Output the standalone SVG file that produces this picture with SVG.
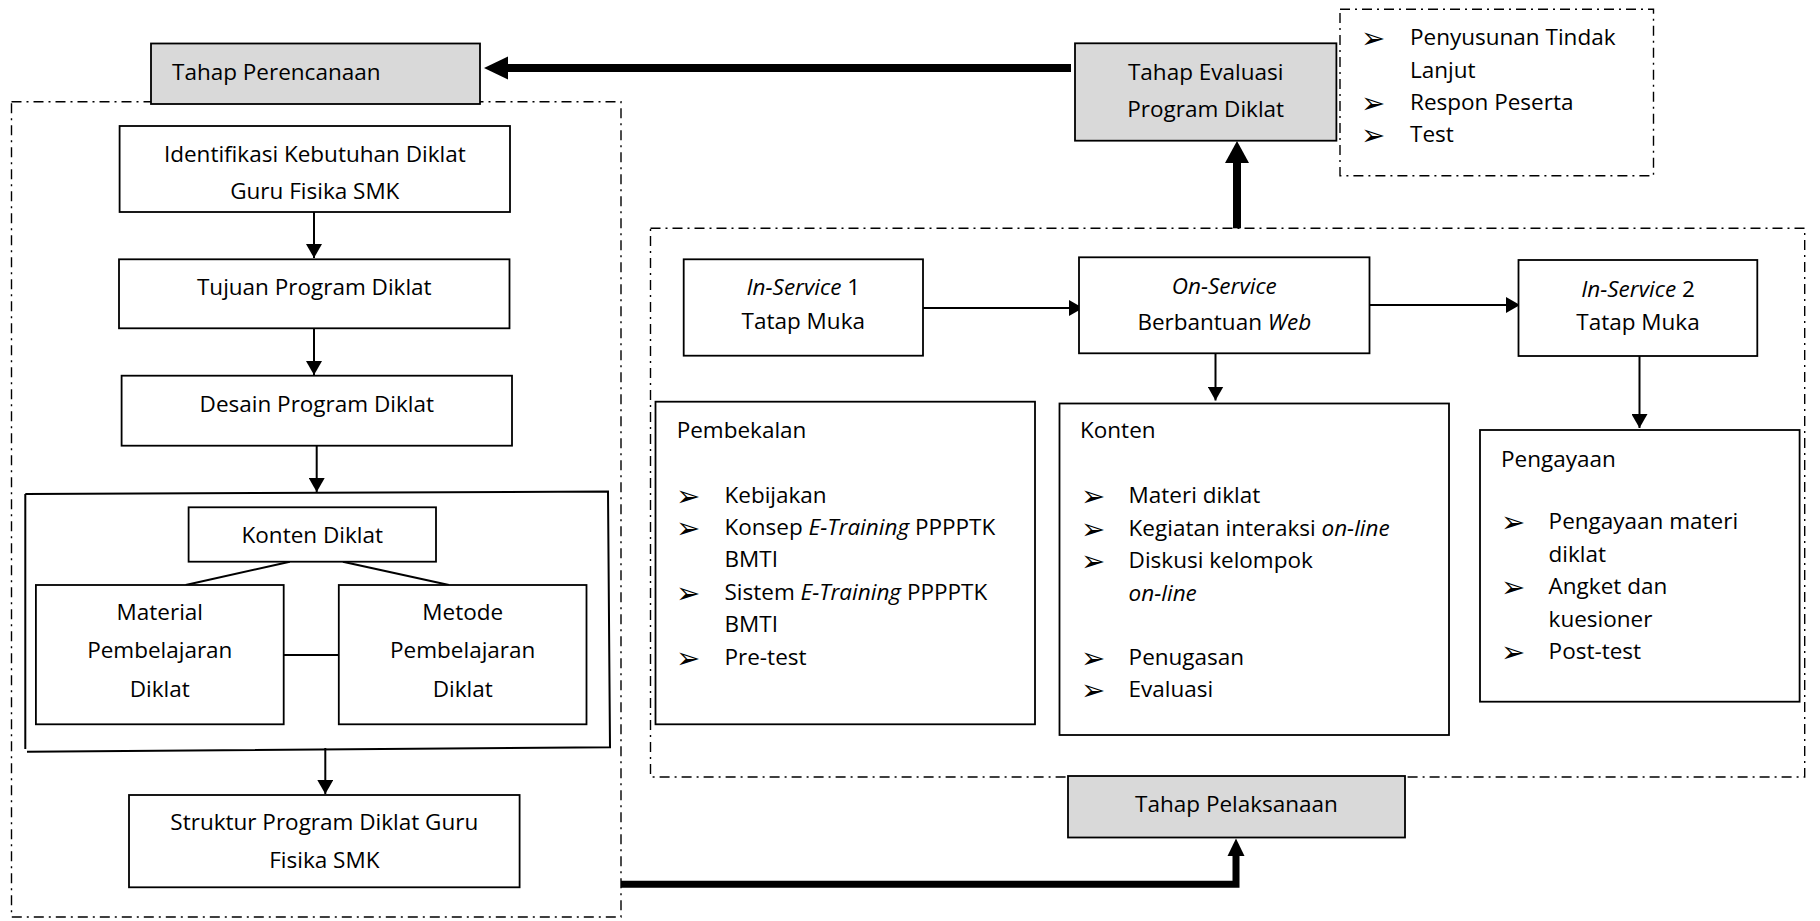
<svg xmlns="http://www.w3.org/2000/svg" width="1820" height="921" viewBox="0 0 1820 921">
<style>
  .box{fill:#fff;stroke:#000;stroke-width:1.8}
  .gray{fill:#d9d9d9;stroke:#000;stroke-width:1.8}
  .dash{fill:none;stroke:#000;stroke-width:1.4;stroke-dasharray:10 5 2 5}
  .t{font-family:"Open Sans","Liberation Sans",sans-serif;font-size:22.5px;fill:#000}
  .c{text-anchor:middle}
  .i{font-style:italic}
  .b{font-family:"DejaVu Sans",sans-serif;font-size:29px;fill:#000}
  .ln{fill:none;stroke:#000;stroke-width:2}
  .thick{fill:none;stroke:#000;stroke-width:8}
  .thick7{fill:none;stroke:#000;stroke-width:7}
  .ah{fill:#000;stroke:none}
</style>
<defs>
  <marker id="arr" markerWidth="8" markerHeight="8" refX="7" refY="4" orient="auto" markerUnits="strokeWidth">
    <path d="M0,0 L7,4 L0,8 Z" fill="#000"/>
  </marker>
</defs>

<!-- dashed frames -->
<g id="frames">
  <rect class="dash" x="11.5" y="101.7" width="609.5" height="815.3"/>
  <rect class="dash" x="650.5" y="228.3" width="1154.2" height="548.7"/>
  <rect class="dash" x="1340" y="9.3" width="313.5" height="166.4"/>
</g>

<g id="connectors">
  <line class="ln" x1="314" y1="212" x2="314" y2="258" marker-end="url(#arr)"/>
  <line class="ln" x1="314" y1="328.3" x2="314" y2="375" marker-end="url(#arr)"/>
  <line class="ln" x1="316.7" y1="445.7" x2="316.7" y2="492" marker-end="url(#arr)"/>
  <line class="ln" x1="325.3" y1="748" x2="325.3" y2="794" marker-end="url(#arr)"/>
  <line class="ln" x1="289.8" y1="561.7" x2="185.7" y2="585"/>
  <line class="ln" x1="342.9" y1="561.7" x2="449" y2="585"/>
  <line class="ln" x1="283.7" y1="655" x2="338.8" y2="655"/>
  <line class="ln" x1="923" y1="308" x2="1083" y2="308" marker-end="url(#arr)"/>
  <line class="ln" x1="1362" y1="305" x2="1520" y2="305" marker-end="url(#arr)"/>
  <line class="ln" x1="1215.5" y1="353.3" x2="1215.5" y2="400.5" marker-end="url(#arr)"/>
  <line class="ln" x1="1639.5" y1="356" x2="1639.5" y2="428" marker-end="url(#arr)"/>
  <line class="thick" x1="1071" y1="68" x2="506" y2="68"/>
  <polygon class="ah" points="484,68 508,56.5 508,79.5"/>
  <line class="thick" x1="1237" y1="228.3" x2="1237" y2="160"/>
  <polygon class="ah" points="1237,141 1225,163 1249,163"/>
  <polyline class="thick7" points="621,884.3 1236,884.3 1236,854"/>
  <polygon class="ah" points="1236,838.5 1227.5,856 1244.5,856"/>
</g>

<g id="tahap-perencanaan">
  <rect class="gray" x="151" y="43.5" width="329" height="60.5"/>
  <text class="t" x="172" y="80">Tahap Perencanaan</text>
</g>

<g id="identifikasi">
  <rect class="box" x="119.6" y="126" width="390.4" height="86"/>
  <text class="t c" x="314.8" y="161.7">Identifikasi Kebutuhan Diklat</text>
  <text class="t c" x="314.8" y="199.3">Guru Fisika SMK</text>
</g>

<g id="tujuan">
  <rect class="box" x="119" y="259.3" width="390.5" height="69"/>
  <text class="t c" x="314.3" y="295">Tujuan Program Diklat</text>
</g>

<g id="desain">
  <rect class="box" x="121.6" y="375.7" width="390.4" height="70"/>
  <text class="t c" x="316.8" y="411.7">Desain Program Diklat</text>
</g>

<g id="konten-group">
  <path class="ln" d="M25.3,494 L608,491.5 L610,747.3 L27,751.7 M25.3,494 L25.3,749"/>
</g>

<g id="konten-diklat">
  <rect class="box" x="188.6" y="507.3" width="247.4" height="54.4"/>
  <text class="t c" x="312.3" y="542.7">Konten Diklat</text>
</g>

<g id="material">
  <rect class="box" x="35.9" y="585" width="247.8" height="139.3"/>
  <text class="t c" x="159.8" y="620">Material</text>
  <text class="t c" x="159.8" y="658.3">Pembelajaran</text>
  <text class="t c" x="159.8" y="696.7">Diklat</text>
</g>

<g id="metode">
  <rect class="box" x="338.8" y="585" width="247.7" height="139.3"/>
  <text class="t c" x="462.7" y="620">Metode</text>
  <text class="t c" x="462.7" y="658.3">Pembelajaran</text>
  <text class="t c" x="462.7" y="696.7">Diklat</text>
</g>

<g id="struktur">
  <rect class="box" x="129" y="795" width="390.6" height="92.3"/>
  <text class="t c" x="324.3" y="830">Struktur Program Diklat Guru</text>
  <text class="t c" x="324.3" y="867.7">Fisika SMK</text>
</g>

<g id="tahap-evaluasi">
  <rect class="gray" x="1075" y="43.3" width="261.4" height="97.4"/>
  <text class="t c" x="1205.7" y="80">Tahap Evaluasi</text>
  <text class="t c" x="1205.7" y="116.7">Program Diklat</text>
</g>

<g id="evaluasi-list">
  <text class="b" x="1361" y="48">➢</text>
  <text class="t" x="1410" y="45">Penyusunan Tindak</text>
  <text class="t" x="1410" y="78">Lanjut</text>
  <text class="b" x="1361" y="113">➢</text>
  <text class="t" x="1410" y="110">Respon Peserta</text>
  <text class="b" x="1361" y="145">➢</text>
  <text class="t" x="1410" y="142">Test</text>
</g>

<g id="in-service-1">
  <rect class="box" x="683.7" y="259.3" width="239.3" height="96.4"/>
  <text class="t c" x="803.3" y="295"><tspan class="i">In-Service</tspan> 1</text>
  <text class="t c" x="803.3" y="328.5">Tatap Muka</text>
</g>

<g id="on-service">
  <rect class="box" x="1079" y="257.3" width="290.5" height="96"/>
  <text class="t c i" x="1224.3" y="294">On-Service</text>
  <text class="t c" x="1224.3" y="330">Berbantuan <tspan class="i">Web</tspan></text>
</g>

<g id="in-service-2">
  <rect class="box" x="1518.5" y="260" width="238.8" height="96"/>
  <text class="t c" x="1638" y="296.7"><tspan class="i">In-Service</tspan> 2</text>
  <text class="t c" x="1638" y="330">Tatap Muka</text>
</g>

<g id="pembekalan">
  <rect class="box" x="655.5" y="401.7" width="379.5" height="322.6"/>
  <text class="t" x="676.7" y="438.3">Pembekalan</text>
  <text class="b" x="676" y="505.7">➢</text>
  <text class="t" x="724.5" y="502.7">Kebijakan</text>
  <text class="b" x="676" y="538">➢</text>
  <text class="t" x="724.5" y="535">Konsep <tspan class="i">E-Training</tspan> PPPPTK</text>
  <text class="t" x="724.5" y="567.3">BMTI</text>
  <text class="b" x="676" y="602.5">➢</text>
  <text class="t" x="724.5" y="599.5">Sistem <tspan class="i">E-Training</tspan> PPPPTK</text>
  <text class="t" x="724.5" y="631.7">BMTI</text>
  <text class="b" x="676" y="668">➢</text>
  <text class="t" x="724.5" y="665">Pre-test</text>
</g>

<g id="konten">
  <rect class="box" x="1059.5" y="403.5" width="389.5" height="331.5"/>
  <text class="t" x="1080" y="438.3">Konten</text>
  <text class="b" x="1081" y="506.3">➢</text>
  <text class="t" x="1128.6" y="503.3">Materi diklat</text>
  <text class="b" x="1081" y="538.7">➢</text>
  <text class="t" x="1128.6" y="535.7">Kegiatan interaksi <tspan class="i">on-line</tspan></text>
  <text class="b" x="1081" y="571.1">➢</text>
  <text class="t" x="1128.6" y="568.1">Diskusi kelompok</text>
  <text class="t i" x="1128.6" y="600.5">on-line</text>
  <text class="b" x="1081" y="668">➢</text>
  <text class="t" x="1128.6" y="665">Penugasan</text>
  <text class="b" x="1081" y="700">➢</text>
  <text class="t" x="1128.6" y="697">Evaluasi</text>
</g>

<g id="pengayaan">
  <rect class="box" x="1480" y="430" width="319.6" height="271.7"/>
  <text class="t" x="1501" y="466.7">Pengayaan</text>
  <text class="b" x="1501" y="532.3">➢</text>
  <text class="t" x="1548.6" y="529.3">Pengayaan materi</text>
  <text class="t" x="1548.6" y="561.7">diklat</text>
  <text class="b" x="1501" y="597.1">➢</text>
  <text class="t" x="1548.6" y="594.1">Angket dan</text>
  <text class="t" x="1548.6" y="626.5">kuesioner</text>
  <text class="b" x="1501" y="661.9">➢</text>
  <text class="t" x="1548.6" y="658.9">Post-test</text>
</g>

<g id="tahap-pelaksanaan">
  <rect class="gray" x="1068" y="776" width="337" height="61.5"/>
  <text class="t c" x="1236.5" y="811.7">Tahap Pelaksanaan</text>
</g>
</svg>
